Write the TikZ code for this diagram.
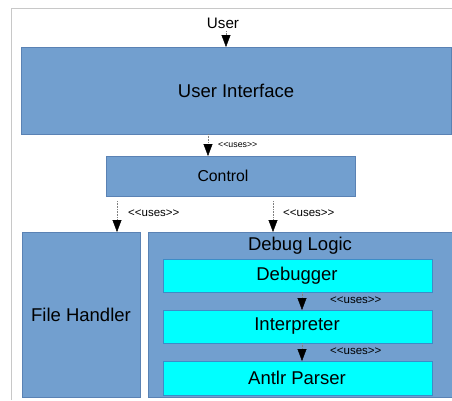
\documentclass[tikz,border=0pt]{standalone}
\usepackage{fontspec}
\setmainfont{Liberation Sans}
\usetikzlibrary{arrows.meta}
\definecolor{boxblue}{HTML}{729FCF}
\definecolor{boxedge}{HTML}{5A82B4}
\definecolor{cyanfill}{HTML}{00FFFF}
\definecolor{cyanedge}{HTML}{3C8CC8}
\definecolor{framegray}{HTML}{C8C8C8}
\tikzset{
  bluebox/.style={draw=boxedge, line width=0.6pt, fill=boxblue, inner sep=0pt},
  cyanbox/.style={draw=cyanedge, line width=0.6pt, fill=cyanfill, inner sep=0pt},
  uses/.style={draw=gray, densely dotted, line width=0.6pt, -{Triangle[length=12pt,width=9pt,color=black,fill=black,line width=0.4pt]}},
  usestxt/.style={font=\fontsize{11.5}{12}\selectfont, anchor=west, inner sep=0pt},
  bigtxt/.style={font=\fontsize{18.5}{20}\selectfont}
}
\begin{document}
\begin{tikzpicture}[x=1pt,y=-1pt]
\useasboundingbox (0,0) rectangle (452,400);
\draw[framegray, line width=0.8pt] (11.5,400) -- (11.5,8.5) -- (452,8.5);
% boxes
\node[bluebox, minimum width=430pt, minimum height=87pt, anchor=north west] (ui) at (21,47) {};
\node[bigtxt] at (236,91) {User Interface};
\node[bluebox, minimum width=249pt, minimum height=40pt, anchor=north west] (ctrl) at (106,156) {};
\node[font=\fontsize{15.8}{17}\selectfont] at (223,176) {Control};
\node[bluebox, minimum width=118pt, minimum height=165pt, anchor=north west] (fh) at (22,232) {};
\node[bigtxt] at (81,315) {File Handler};
\node[bluebox, minimum width=304pt, minimum height=165pt, anchor=north west] (dl) at (148,232) {};
\node[bigtxt] at (300,246) {Debug Logic};
\node[cyanbox, minimum width=269pt, minimum height=33pt, anchor=north west] (dbg) at (163,259) {};
\node[bigtxt] at (297,275.5) {Debugger};
\node[cyanbox, minimum width=269pt, minimum height=33pt, anchor=north west] (intp) at (163,310) {};
\node[bigtxt] at (297,326.5) {Interpreter};
\node[cyanbox, minimum width=269pt, minimum height=34pt, anchor=north west] (ap) at (163,361) {};
\node[bigtxt] at (297,378) {Antlr Parser};
% user
\node[font=\fontsize{15.2}{16}\selectfont] (user) at (223,23) {User};
% connectors
\coordinate (u1) at (226,31);
\draw[uses] (u1) -- (u1 |- ui.north);
\coordinate (c1) at (208,134);
\draw[uses] (c1) -- (c1 |- ctrl.north);
\node[usestxt, font=\fontsize{8.8}{9}\selectfont] at (218,145) {<{}<uses>{}>};
\coordinate (c2) at (117,201);
\draw[uses] (c2) -- (c2 |- fh.north);
\node[usestxt] at (128,213) {<{}<uses>{}>};
\coordinate (c3) at (273,201);
\draw[uses] (c3) -- (c3 |- dl.north);
\node[usestxt] at (283,213) {<{}<uses>{}>};
\coordinate (d1) at (302,292);
\draw[uses] (d1) -- (d1 |- intp.north);
\node[usestxt] at (330,300) {<{}<uses>{}>};
\coordinate (d2) at (302,343);
\draw[uses] (d2) -- (d2 |- ap.north);
\node[usestxt] at (330,351) {<{}<uses>{}>};
\end{tikzpicture}
\end{document}
